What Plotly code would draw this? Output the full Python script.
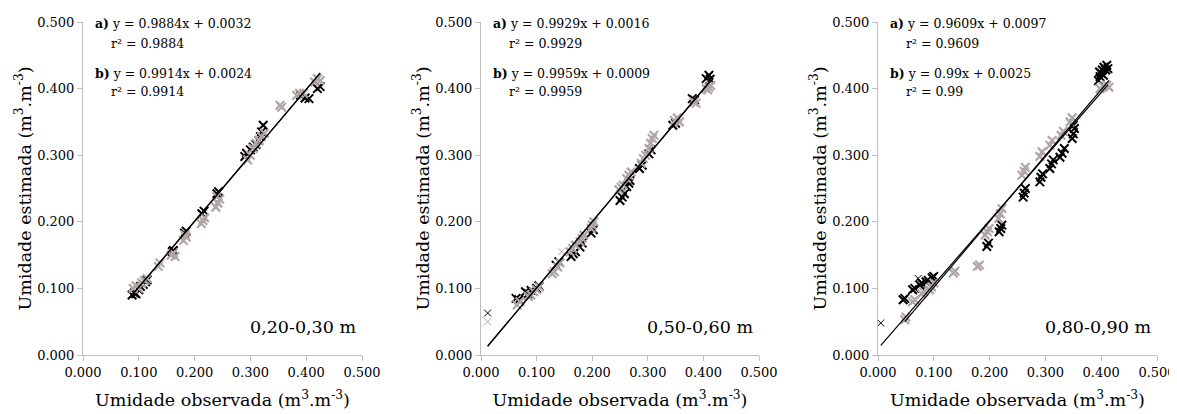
import plotly.graph_objects as go

# ---------------- DATA ----------------
depth_labels = ["0,20-0,30 m", "0,50-0,60 m", "0,80-0,90 m"]
eq_a = ["y = 0.9884x + 0.0032", "y = 0.9929x + 0.0016", "y = 0.9609x + 0.0097"]
r2_a = ["r² = 0.9884", "r² = 0.9929", "r² = 0.9609"]
eq_b = ["y = 0.9914x + 0.0024", "y = 0.9959x + 0.0009", "y = 0.99x + 0.0025"]
r2_b = ["r² = 0.9914", "r² = 0.9959", "r² = 0.99"]
slope_a = [0.9884, 0.9929, 0.9609]
inter_a = [0.0032, 0.0016, 0.0097]
slope_b = [0.9914, 0.9959, 0.99]
inter_b = [0.0024, 0.0009, 0.0025]
tick_vals = [0.0, 0.1, 0.2, 0.3, 0.4, 0.5]
tick_text = ["0.000", "0.100", "0.200", "0.300", "0.400", "0.500"]

# Panel 1 (0,20-0,30 m)
p1_a_obs = [0.088, 0.092, 0.095, 0.100, 0.103, 0.108, 0.112, 0.115, 0.160, 0.162, 0.182, 0.185,
            0.213, 0.217, 0.240, 0.243, 0.290, 0.293, 0.300, 0.305, 0.310, 0.315, 0.320, 0.323, 0.318,
            0.390, 0.398, 0.405, 0.420, 0.425]
p1_a_est = [0.090, 0.093, 0.092, 0.098, 0.103, 0.106, 0.110, 0.113, 0.155, 0.157, 0.183, 0.186,
            0.212, 0.216, 0.242, 0.245, 0.298, 0.303, 0.308, 0.312, 0.316, 0.322, 0.335, 0.345, 0.328,
            0.390, 0.386, 0.385, 0.400, 0.403]
p1_b_obs = [0.090, 0.095, 0.100, 0.105, 0.110, 0.115, 0.135, 0.138, 0.158, 0.162, 0.165, 0.180, 0.185,
            0.183, 0.212, 0.215, 0.218, 0.238, 0.242, 0.245, 0.240, 0.295, 0.300, 0.305, 0.310, 0.315,
            0.320, 0.325, 0.353, 0.356, 0.383, 0.388, 0.395, 0.415, 0.420, 0.425]
p1_b_est = [0.100, 0.104, 0.100, 0.108, 0.112, 0.115, 0.133, 0.138, 0.150, 0.153, 0.148, 0.172, 0.177,
            0.180, 0.197, 0.202, 0.206, 0.222, 0.228, 0.234, 0.238, 0.293, 0.300, 0.310, 0.318, 0.322,
            0.328, 0.333, 0.375, 0.372, 0.390, 0.393, 0.393, 0.410, 0.415, 0.412]
p1_a_thin_obs = []
p1_a_thin_est = []
p1_b_thin_obs = []
p1_b_thin_est = []

# Panel 2 (0,50-0,60 m)
p2_a_obs = [0.063, 0.068, 0.080, 0.085, 0.090, 0.100, 0.104, 0.135, 0.140, 0.162, 0.166, 0.170,
            0.178, 0.182, 0.198, 0.202, 0.250, 0.254, 0.258, 0.262, 0.266, 0.268, 0.285, 0.290,
            0.302, 0.306, 0.345, 0.350, 0.380, 0.384, 0.405, 0.410, 0.412]
p2_a_est = [0.085, 0.083, 0.095, 0.092, 0.097, 0.100, 0.104, 0.135, 0.140, 0.148, 0.152, 0.155,
            0.162, 0.168, 0.183, 0.188, 0.232, 0.237, 0.242, 0.253, 0.258, 0.262, 0.280, 0.285,
            0.302, 0.308, 0.345, 0.348, 0.385, 0.383, 0.415, 0.420, 0.414]
p2_b_obs = [0.065, 0.070, 0.085, 0.090, 0.095, 0.100, 0.105, 0.128, 0.132, 0.138, 0.142, 0.160, 0.165,
            0.170, 0.178, 0.182, 0.185, 0.198, 0.200, 0.203, 0.248, 0.252, 0.256, 0.262, 0.266, 0.270,
            0.288, 0.292, 0.296, 0.302, 0.305, 0.308, 0.311, 0.348, 0.353, 0.357, 0.383, 0.387,
            0.405, 0.410, 0.413, 0.408]
p2_b_est = [0.075, 0.080, 0.088, 0.090, 0.095, 0.098, 0.102, 0.122, 0.125, 0.132, 0.138, 0.155, 0.160,
            0.165, 0.170, 0.175, 0.180, 0.190, 0.195, 0.200, 0.248, 0.252, 0.255, 0.265, 0.270, 0.275,
            0.288, 0.295, 0.300, 0.310, 0.318, 0.325, 0.330, 0.352, 0.356, 0.350, 0.380, 0.378,
            0.400, 0.402, 0.405, 0.398]
p2_a_thin_obs = [0.012]
p2_a_thin_est = [0.063]
p2_b_thin_obs = [0.012, 0.145]
p2_b_thin_est = [0.050, 0.155]

# Panel 3 (0,80-0,90 m)
p3_a_obs = [0.045, 0.048, 0.062, 0.066, 0.075, 0.078, 0.086, 0.090, 0.097, 0.100, 0.195, 0.198,
            0.217, 0.220, 0.222, 0.260, 0.262, 0.264, 0.290, 0.292, 0.295, 0.308, 0.311, 0.314,
            0.326, 0.330, 0.334, 0.348, 0.350, 0.352, 0.350, 0.395, 0.398, 0.400, 0.402, 0.405,
            0.408, 0.410, 0.397, 0.404, 0.412]
p3_a_est = [0.083, 0.085, 0.098, 0.100, 0.105, 0.108, 0.110, 0.112, 0.116, 0.118, 0.163, 0.168,
            0.185, 0.190, 0.195, 0.237, 0.243, 0.250, 0.260, 0.267, 0.272, 0.280, 0.287, 0.293,
            0.297, 0.303, 0.310, 0.325, 0.332, 0.340, 0.345, 0.412, 0.418, 0.423, 0.428, 0.432,
            0.428, 0.435, 0.425, 0.420, 0.430]
p3_b_obs = [0.048, 0.050, 0.062, 0.066, 0.078, 0.082, 0.092, 0.096, 0.100, 0.135, 0.138, 0.178, 0.182,
            0.192, 0.196, 0.199, 0.216, 0.219, 0.222, 0.258, 0.262, 0.264, 0.290, 0.294, 0.308,
            0.312, 0.328, 0.332, 0.344, 0.348, 0.398, 0.404, 0.410, 0.414]
p3_b_est = [0.053, 0.057, 0.080, 0.083, 0.092, 0.095, 0.098, 0.102, 0.108, 0.123, 0.126, 0.133, 0.135,
            0.180, 0.185, 0.190, 0.205, 0.212, 0.220, 0.270, 0.276, 0.282, 0.298, 0.305, 0.315,
            0.322, 0.330, 0.336, 0.350, 0.356, 0.400, 0.403, 0.405, 0.402]
p3_a_thin_obs = [0.005, 0.072]
p3_a_thin_est = [0.048, 0.115]
p3_b_thin_obs = []
p3_b_thin_est = []

panels = [
    (p1_a_obs, p1_a_est, p1_b_obs, p1_b_est, p1_a_thin_obs, p1_a_thin_est, p1_b_thin_obs, p1_b_thin_est),
    (p2_a_obs, p2_a_est, p2_b_obs, p2_b_est, p2_a_thin_obs, p2_a_thin_est, p2_b_thin_obs, p2_b_thin_est),
    (p3_a_obs, p3_a_est, p3_b_obs, p3_b_est, p3_a_thin_obs, p3_a_thin_est, p3_b_thin_obs, p3_b_thin_est),
]

# ---------------- STYLE ----------------
OFF = 8                      # page body margin of the browser
W, H = 1177 - OFF, 414 - OFF
FONT = "DejaVu Serif"
BLACK = "#000000"
GRAY = "#b0a6a6"
AXC = "#bfbfbf"
x_px = [(83, 362), (481, 759), (878, 1157)]
x_domains = [((a - OFF) / W, (b - OFF) / W) for a, b in x_px]
y_domain = ((H - (355 - OFF)) / H, (H - (22 - OFF)) / H)

fig = go.Figure()

for i, (ao, ae, bo, be, ato, ate, bto, bte) in enumerate(panels):
    xa = "x" if i == 0 else f"x{i + 1}"
    ya = "y" if i == 0 else f"y{i + 1}"
    fig.add_trace(go.Scatter(x=ao, y=ae, mode="markers", xaxis=xa, yaxis=ya,
                             marker=dict(symbol="x-thin", size=8.5, line=dict(color=BLACK, width=2)),
                             showlegend=False, hoverinfo="skip"))
    if ato:
        fig.add_trace(go.Scatter(x=ato, y=ate, mode="markers", xaxis=xa, yaxis=ya,
                                 marker=dict(symbol="x-thin", size=7, line=dict(color=BLACK, width=1)),
                                 showlegend=False, hoverinfo="skip"))
    fig.add_trace(go.Scatter(x=bo, y=be, mode="markers", xaxis=xa, yaxis=ya,
                             marker=dict(symbol="x-thin", size=8.5, line=dict(color=GRAY, width=2.2)),
                             showlegend=False, hoverinfo="skip"))
    if bto:
        fig.add_trace(go.Scatter(x=bto, y=bte, mode="markers", xaxis=xa, yaxis=ya,
                                 marker=dict(symbol="x-thin", size=7, line=dict(color=GRAY, width=1)),
                                 showlegend=False, hoverinfo="skip"))
    xs_a = ao + ato
    xs_b = bo + bto
    for xs, m, c in ((xs_a, slope_a[i], inter_a[i]), (xs_b, slope_b[i], inter_b[i])):
        x0, x1 = min(xs), max(xs)
        fig.add_trace(go.Scatter(x=[x0, x1], y=[m * x0 + c, m * x1 + c], mode="lines",
                                 xaxis=xa, yaxis=ya, line=dict(color=BLACK, width=1.2),
                                 showlegend=False, hoverinfo="skip"))

    axis_common = dict(range=[0, 0.5], tickvals=tick_vals, ticktext=tick_text,
                       showgrid=False, zeroline=False, showline=True, linecolor=AXC, linewidth=1,
                       ticks="outside", ticklen=5, tickcolor=AXC, automargin=False,
                       ticklabeloverflow="allow",
                       tickfont=dict(family=FONT, size=13, color="#000"))
    xkey = "xaxis" if i == 0 else f"xaxis{i + 1}"
    ykey = "yaxis" if i == 0 else f"yaxis{i + 1}"
    fig.update_layout(**{
        xkey: dict(axis_common, domain=list(x_domains[i]), anchor=ya,
                   title=dict(text="Umidade observada (m<sup>3</sup>.m<sup>-3</sup>)",
                              font=dict(family=FONT, size=17.5, color="#000"), standoff=15)),
        ykey: dict(axis_common, domain=list(y_domain), anchor=xa,
                   title=dict(text="Umidade estimada (m<sup>3</sup>.m<sup>-3</sup>)",
                              font=dict(family=FONT, size=17.5, color="#000"), standoff=1)),
    })

    dom = f"{xa} domain"
    ann_font = dict(family=FONT, size=12.5, color="#000")
    fig.add_annotation(xref=dom, yref=ya, x=0.035, y=0.497, xanchor="left", yanchor="middle",
                       text=f"<b>a)</b> {eq_a[i]}", showarrow=False, font=ann_font)
    fig.add_annotation(xref=dom, yref=ya, x=0.093, y=0.468, xanchor="left", yanchor="middle",
                       text=r2_a[i], showarrow=False, font=ann_font)
    fig.add_annotation(xref=dom, yref=ya, x=0.035, y=0.423, xanchor="left", yanchor="middle",
                       text=f"<b>b)</b> {eq_b[i]}", showarrow=False, font=ann_font)
    fig.add_annotation(xref=dom, yref=ya, x=0.093, y=0.396, xanchor="left", yanchor="middle",
                       text=r2_b[i], showarrow=False, font=ann_font)
    fig.add_annotation(xref=dom, yref=ya, x=0.985, y=0.042, xanchor="right", yanchor="middle",
                       text=depth_labels[i], showarrow=False,
                       font=dict(family=FONT, size=17.5, color="#000"))

fig.update_layout(width=W, height=H, margin=dict(l=0, r=0, t=0, b=0),
                  paper_bgcolor="white", plot_bgcolor="white", showlegend=False)

fig.write_html("out.html")
